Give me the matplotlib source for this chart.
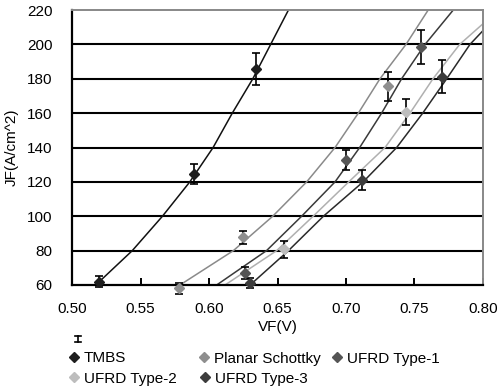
import matplotlib
matplotlib.use("Agg")
import matplotlib.pyplot as plt
from matplotlib.lines import Line2D

plt.rcParams['font.family'] = ['Liberation Sans', 'DejaVu Sans']

series = ["TMBS", "Planar Schottky", "UFRD Type-1", "UFRD Type-2", "UFRD Type-3"]
marker_colors = ["#1e1e1e", "#8e8e8e", "#555555", "#bdbdbd", "#3c3c3c"]
line_colors = ["#111111", "#8a8a8a", "#3a3a3a", "#b0b0b0", "#2a2a2a"]

# measured points
pt_x = [
    [0.520, 0.589, 0.634],
    [0.578, 0.625, 0.731],
    [0.626, 0.700, 0.755],
    [0.655, 0.744],
    [0.630, 0.712, 0.770],
]
pt_y = [
    [62, 124.5, 185.7],
    [58, 87.7, 175.5],
    [66.8, 132.7, 198.6],
    [80.7, 160.8],
    [61, 121, 181.2],
]
pt_err = [
    [3, 6, 9.5],
    [3, 4, 8.7],
    [3.5, 6, 10],
    [4.8, 7.5],
    [3, 6, 9.5],
]

# fitted curves
cv_x = [
    [0.520, 0.544, 0.566, 0.586, 0.603, 0.617, 0.632, 0.645, 0.658],
    [0.5788, 0.6178, 0.6465, 0.6713, 0.692, 0.709, 0.7248, 0.7438, 0.760],
    [0.6056, 0.642, 0.6676, 0.692, 0.710, 0.726, 0.7406, 0.7577, 0.7783],
    [0.6117, 0.6494, 0.676, 0.702, 0.7285, 0.7467, 0.7635, 0.783, 0.800],
    [0.630, 0.658, 0.6835, 0.7125, 0.737, 0.756, 0.7735, 0.7905, 0.800],
]
cv_y = [
    [62, 80, 100, 120, 140, 160, 180, 200, 220],
    [60, 80, 100, 120, 140, 160, 180, 200, 220],
    [60, 80, 100, 120, 140, 160, 180, 200, 220],
    [60, 80, 100, 120, 140, 160, 180, 200, 212],
    [60, 80, 100, 120, 140, 160, 180, 200, 208],
]

x_ticks = [0.50, 0.55, 0.60, 0.65, 0.70, 0.75, 0.80]
y_ticks = [60, 80, 100, 120, 140, 160, 180, 200, 220]

W, H = 500, 388
fig = plt.figure(figsize=(W / 100, H / 100), dpi=100)
ax = fig.add_axes([72 / W, 1 - 285 / H, 411 / W, 275 / H])
ax.set_xlim(0.50, 0.80)
ax.set_ylim(60, 220)

for yv in y_ticks[1:-1]:
    ax.axhline(yv, color="black", lw=1.5, zorder=1)

for i in range(len(series)):
    ax.plot(cv_x[i], cv_y[i], color=line_colors[i], lw=1.1, zorder=2)

for i in range(len(series)):
    ax.errorbar(pt_x[i], pt_y[i], yerr=pt_err[i], fmt='none', ecolor='black',
                elinewidth=1.2, capsize=3, capthick=1.2, zorder=3, clip_on=False)
    ax.plot(pt_x[i], pt_y[i], linestyle='none', marker='D', markersize=5,
            color=marker_colors[i], zorder=4, clip_on=False)

for s in ['left', 'bottom']:
    ax.spines[s].set_color('black')
    ax.spines[s].set_linewidth(1.6)
for s in ['top', 'right']:
    ax.spines[s].set_color('#888888')
    ax.spines[s].set_linewidth(1.4)

ax.set_xticks(x_ticks)
ax.set_xticklabels([f"{v:.2f}" for v in x_ticks])
ax.set_yticks(y_ticks)
ax.set_yticklabels([str(v) for v in y_ticks])
ax.tick_params(axis='x', direction='in', length=5, width=1.4, labelsize=11,
               colors='black', pad=12)
ax.tick_params(axis='y', length=0, pad=14, labelsize=11)

ax.set_xlabel("VF(V)", fontsize=11, labelpad=3)
fig.text(12 / W, 1 - 147 / H, "JF(A/cm^2)", fontsize=11, rotation=90,
         ha='center', va='center')

# manual legend, Excel-like layout
leg_pos = [(74, 357), (204, 357), (337, 357), (74, 377), (205, 377)]
for i, (mx, my) in enumerate(leg_pos):
    fig.add_artist(Line2D([mx / W], [1 - my / H], linestyle='none', marker='D',
                          markersize=5, color=marker_colors[i],
                          transform=fig.transFigure))
    fig.text((mx + 10) / W, 1 - my / H, series[i], fontsize=11,
             ha='left', va='center_baseline')

# error-bar legend symbol
fx, fy = 78 / W, 1 - 339 / H
d = 3 / H
fig.add_artist(Line2D([fx, fx], [fy - d, fy + d], color='black', lw=1.2,
                      transform=fig.transFigure))
for dy in (-d, d):
    fig.add_artist(Line2D([fx - 3 / W, fx + 3 / W], [fy + dy, fy + dy], color='black',
                          lw=1.2, transform=fig.transFigure))

fig.savefig("out.png", dpi=100)
